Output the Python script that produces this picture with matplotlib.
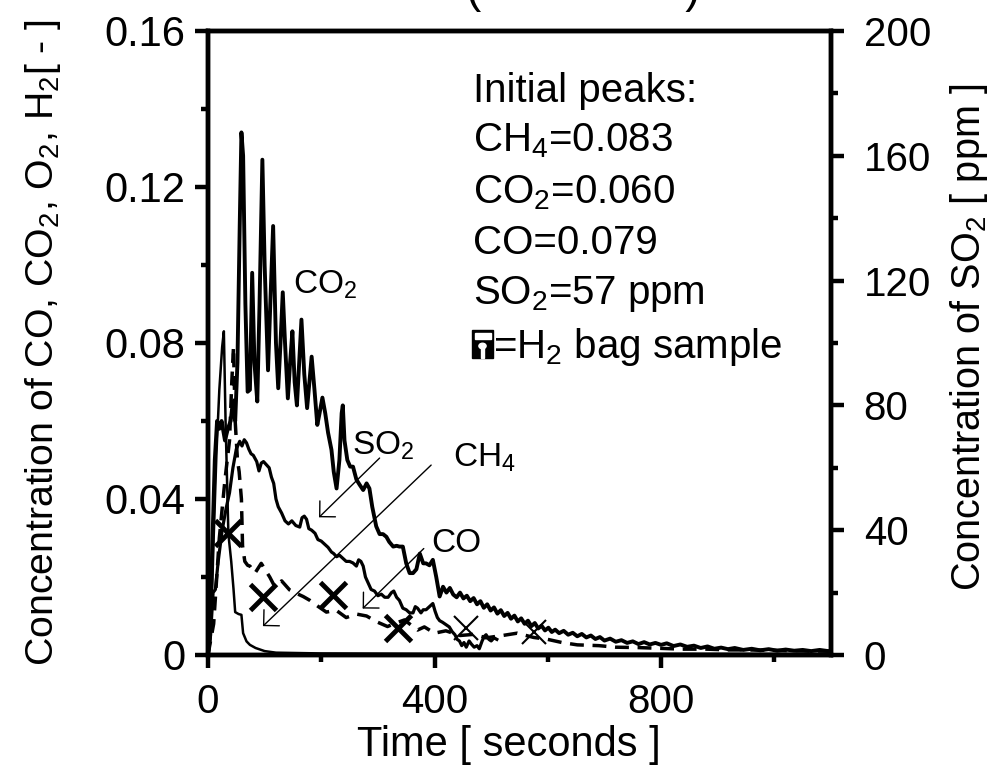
import matplotlib
matplotlib.use("Agg")
import matplotlib.pyplot as plt
from matplotlib.patches import Rectangle, Circle

plt.rcParams['font.family'] = ['Liberation Sans', 'DejaVu Sans']
plt.rcParams['mathtext.default'] = 'regular'

# time [s] and concentrations
co2_t = [0, 4, 8, 12, 16, 20, 24, 30, 35, 40, 44, 48, 52, 56, 59, 62, 66, 70, 74, 78,
         82, 87, 91, 96, 100, 106, 110, 115, 120, 124, 128, 132, 136, 141, 145, 149, 153, 157, 161, 165,
         170, 175, 179, 183, 188, 193, 197, 202, 207, 212, 218, 222, 227, 232, 236, 238, 241, 246, 251, 256,
         262, 268, 274, 280, 285, 290, 297, 303, 309, 315, 320, 327, 333, 338, 344, 350, 356, 362, 368, 374,
         380, 385, 391, 397, 403,
         409, 415, 421, 427, 433, 439, 445, 451, 457, 463, 469, 475, 481, 487, 493, 499, 505, 511, 517, 523,
         529, 535, 541, 547, 553, 559, 565, 571, 577, 583, 589, 595, 601, 607, 613, 620, 628, 636, 644, 652,
         660, 668, 676, 684, 692, 700, 710, 720, 730, 740, 750, 760, 770, 780, 790, 800, 810, 822, 834, 846,
         858, 870, 882, 894, 906, 918, 930, 945, 960, 975, 990, 1005, 1020, 1035, 1050, 1065, 1080, 1095]
co2 = [0, 0.010, 0.030, 0.050, 0.060, 0.058, 0.060, 0.055, 0.058, 0.060, 0.065, 0.060, 0.075, 0.110, 0.134, 0.128, 0.090, 0.0675, 0.068, 0.098,
       0.075, 0.065, 0.090, 0.127, 0.100, 0.073, 0.090, 0.110, 0.080, 0.0684, 0.080, 0.093, 0.080, 0.0658, 0.075, 0.083, 0.070, 0.064, 0.075, 0.086,
       0.072, 0.0633, 0.070, 0.0765, 0.068, 0.059, 0.062, 0.066, 0.062, 0.057, 0.0526, 0.047, 0.0427, 0.050, 0.062, 0.064, 0.055, 0.050, 0.0483, 0.0483,
       0.045, 0.0436, 0.0423, 0.044, 0.0427, 0.038, 0.033, 0.031, 0.031, 0.0303, 0.029, 0.0278, 0.028, 0.0278, 0.0278, 0.0235, 0.021, 0.021, 0.022, 0.026,
       0.0235, 0.0235, 0.023, 0.0244, 0.020,
       0.0150, 0.0175, 0.0160, 0.0172, 0.0155, 0.0148, 0.0160, 0.0145, 0.0152, 0.0138, 0.0146, 0.0130, 0.0138, 0.0121, 0.0130, 0.0114, 0.0122, 0.0106, 0.0115, 0.0100,
       0.0108, 0.0093, 0.0101, 0.0086, 0.0094, 0.0080, 0.0088, 0.0074, 0.0082, 0.0068, 0.0075, 0.0063, 0.0070, 0.0059, 0.0065, 0.0056, 0.0062, 0.0052, 0.0057, 0.0048,
       0.0054, 0.0045, 0.0050, 0.0041, 0.0046, 0.0037, 0.0042, 0.0034, 0.0038, 0.0031, 0.0035, 0.0028, 0.0033, 0.0027, 0.0031, 0.0026, 0.0030, 0.0023, 0.0027, 0.0021,
       0.0024, 0.0018, 0.0022, 0.0016, 0.0019, 0.0015, 0.0018, 0.0013, 0.0016, 0.0012, 0.0015, 0.0011, 0.0014, 0.0011, 0.0013, 0.0010, 0.0013, 0.0010]

ch4_t = [0, 5, 10, 15, 20, 25, 28, 31, 36, 41, 45, 48, 54, 59, 62, 68, 74, 84, 94, 100, 120, 200, 400, 700, 1100]
ch4 = [0, 0.005, 0.030, 0.052, 0.068, 0.079, 0.083, 0.060, 0.031, 0.024, 0.017, 0.011, 0.0105, 0.0103, 0.0056, 0.0035, 0.0026, 0.0018, 0.0013, 0.0010, 0.0006, 0.0004, 0.0003, 0.0003, 0.0003]

co_t = [0, 10, 20, 30, 38, 42, 45, 48, 52, 55, 59, 61, 65, 70, 74, 83, 94, 109, 118, 130, 144, 156, 168, 180, 194,
        209, 226, 244, 262, 280, 298, 317, 332, 347, 360, 370, 382, 400, 420, 445, 470, 491, 520, 546, 575,
        600, 625, 652, 690, 720, 760, 800, 837, 880, 920, 950, 1000, 1060, 1100]
co = [0, 0.008, 0.030, 0.045, 0.055, 0.070, 0.079, 0.060, 0.050, 0.047, 0.040, 0.028, 0.024, 0.023, 0.0228, 0.021, 0.0235, 0.020, 0.0175, 0.019, 0.0167, 0.0158, 0.015, 0.014, 0.0125,
      0.011, 0.0115, 0.0096, 0.0105, 0.010, 0.0085, 0.0073, 0.0082, 0.009, 0.0075, 0.0064, 0.0072, 0.0056, 0.0062, 0.0050, 0.0053, 0.0044, 0.0050, 0.0056, 0.0045,
      0.0040, 0.0032, 0.0026, 0.0024, 0.0020, 0.0019, 0.0017, 0.0015, 0.0015, 0.0013, 0.0013, 0.0012, 0.0010, 0.0010]

so2_t = [0, 4, 9, 13, 18, 25, 32, 38, 44, 50, 56, 60, 64, 68, 72, 76, 80, 86, 90, 94,
         98, 103, 108, 112, 116, 120, 124, 130, 136, 142, 148, 155, 162, 166, 170, 174, 178, 183, 189, 194,
         200, 206, 212, 218, 222, 227, 232, 238, 244, 250, 256, 262, 266, 270, 274, 278, 283, 288, 294, 300,
         306, 312, 318, 324, 328, 333, 338, 344, 350, 356, 362, 366, 370, 376, 380, 385, 391, 397, 401, 405,
         409, 414, 418, 422, 426, 431, 436, 440, 444, 448, 452, 456, 461, 465, 470, 475, 479, 484, 488, 491,
         496, 500, 505, 510]
so2_ppm = [0, 5, 20, 21, 30, 40, 47, 52, 60, 66, 68.5, 67, 69, 68, 66, 64.5, 64, 62, 59, 61.5,
           62, 61, 60, 57, 55, 50, 47.5, 45.5, 43, 42, 43, 41.5, 41, 44, 44.5, 43.5, 40.5, 40, 39, 37,
           36.5, 35.5, 34.5, 33, 32.5, 31.5, 32, 31, 30, 30, 29.5, 28.5, 30.5, 30, 28.5, 25, 23, 21, 20.5, 19,
           19.5, 18.5, 18.5, 20, 20.5, 18.5, 17.5, 15, 14.5, 13.5, 13.5, 15.5, 15, 13.5, 14.5, 14.5, 15.5, 16.5, 14, 12,
           11, 10.5, 10, 9.5, 9, 7.5, 6.5, 5, 4.5, 3, 4, 2.5, 4.5, 3.5, 2.5, 3, 2, 4.5, 6, 6.5,
           5, 4.5, 5.5, 5]

# H2 bag samples
bag_t = [36, 97, 221, 335]
bag_y = [0.0312, 0.015, 0.0154, 0.0068]
bag2_t = [456, 576]
bag2_y = [0.0070, 0.0060]

left_ticks = [0, 0.04, 0.08, 0.12, 0.16]
left_labels = ['0', '0.04', '0.08', '0.12', '0.16']
right_ticks = [0, 40, 80, 120, 160, 200]
x_ticks = [0, 400, 800]

peak_lines = ['Initial peaks:', 'CH$_4$=0.083', 'CO$_2$=0.060', 'CO=0.079', 'SO$_2$=57 ppm']

W, H = 1003, 773
fig = plt.figure(figsize=(W / 100, H / 100), dpi=100)
ax = fig.add_axes([208 / W, (H - 655) / H, (831 - 208) / W, 624 / H])
ax2 = ax.twinx()

ax.plot(co2_t, co2, color='k', lw=2.8)
ax.plot(ch4_t, ch4, color='k', lw=1.8)
ax.plot(co_t, co, color='k', lw=2.5, linestyle=(0, (4, 2.5)))
ax2.plot(so2_t, so2_ppm, color='k', lw=2.3)
ax.plot(bag_t, bag_y, 'x', color='k', ms=19, mew=3.5)
ax.plot(bag2_t, bag2_y, 'x', color='k', ms=17, mew=1.5)

ax.set_xlim(0, 1100)
ax.set_ylim(0, 0.16)
ax2.set_ylim(0, 200)

ax.set_xticks(x_ticks)
ax.set_xticks([200, 600, 1000], minor=True)
ax.set_yticks(left_ticks)
ax.set_yticklabels(left_labels)
ax.set_yticks([0.02, 0.06, 0.10, 0.14], minor=True)
ax2.set_yticks(right_ticks)
ax2.set_yticks([20, 60, 100, 140, 180], minor=True)

for a in (ax, ax2):
    for s in a.spines.values():
        s.set_linewidth(3.2)
ax.tick_params(which='both', direction='out', width=3.2, top=False, right=False)
ax.tick_params(which='major', length=9.5, labelsize=29)
ax.tick_params(axis='y', which='major', pad=7, labelsize=30)
ax.tick_params(axis='x', which='major', pad=11)
ax.tick_params(which='minor', length=5)
ax2.tick_params(which='both', direction='out', width=3.2)
ax2.tick_params(which='major', length=9.5, labelsize=29, pad=14)
ax2.tick_params(which='minor', length=5)

ax.set_xlabel('Time [ seconds ]', fontsize=30)
ax.xaxis.set_label_coords(0.483, -0.112)
ax.set_ylabel('Concentration of CO, CO$_2$, O$_2$, H$_2$[ - ]', fontsize=28.3)
ax.yaxis.set_label_coords(-0.2327, 0.50)
ax2.set_ylabel('Concentration of SO$_2$ [ ppm ]', fontsize=28.5)
ax2.yaxis.set_label_coords(1.188, 0.5096)

# curve labels with arrows
ax.text(150, 0.095, 'CO$_2$', fontsize=24, va='center')
ax.text(254, 0.0513, 'SO$_2$', fontsize=24, va='baseline')
ax.text(432, 0.0482, 'CH$_4$', fontsize=24, va='baseline')
ax.text(394, 0.0264, 'CO', fontsize=24, va='baseline')
arrow = dict(arrowstyle='->,head_length=0.4,head_width=0.4', lw=1, color='k',
             shrinkA=0, shrinkB=0, mutation_scale=20)
ax.annotate('', xy=(196, 0.0353), xytext=(303, 0.0505), arrowprops=arrow)
ax.annotate('', xy=(97, 0.0074), xytext=(394, 0.0487), arrowprops=arrow)
ax.annotate('', xy=(273, 0.0119), xytext=(381, 0.0273), arrowprops=arrow)

# text block
base_y = [0.8862, 0.8077, 0.7244, 0.6426, 0.5625]
for line, yy in zip(peak_lines, base_y):
    ax.text(0.4254, yy, line, transform=ax.transAxes, fontsize=29, va='baseline')
ax.text(0.4575, 0.4760, '=H$_2$ bag sample', transform=ax.transAxes, fontsize=29, va='baseline')

# floppy (bag sample) icon, drawn in figure pixels
x0, y0, iw, ih = 472, 330, 21, 28
fig.patches.append(Rectangle((x0 / W, (H - y0 - ih) / H), iw / W, ih / H,
                             transform=fig.transFigure, color='k'))
fig.patches.append(Rectangle(((x0 + 2.5) / W, (H - y0 - 9) / H), (iw - 5) / W, 6 / H,
                             transform=fig.transFigure, color='w'))
fig.patches.append(Rectangle(((x0 + iw / 2 - 1.3) / W, (H - y0 - ih) / H), 2.6 / W, 11 / H,
                             transform=fig.transFigure, color='w'))
fig.patches.append(Circle(((x0 + iw / 2) / W, (H - y0 - 16) / H), 3.6 / W,
                          transform=fig.transFigure, color='w'))

# title, mostly cut off at the top of the picture
fig.text(583 / W, 1 - 2 / H, '(                )', ha='center', va='baseline', fontsize=33)

fig.savefig('out.png', dpi=100)
